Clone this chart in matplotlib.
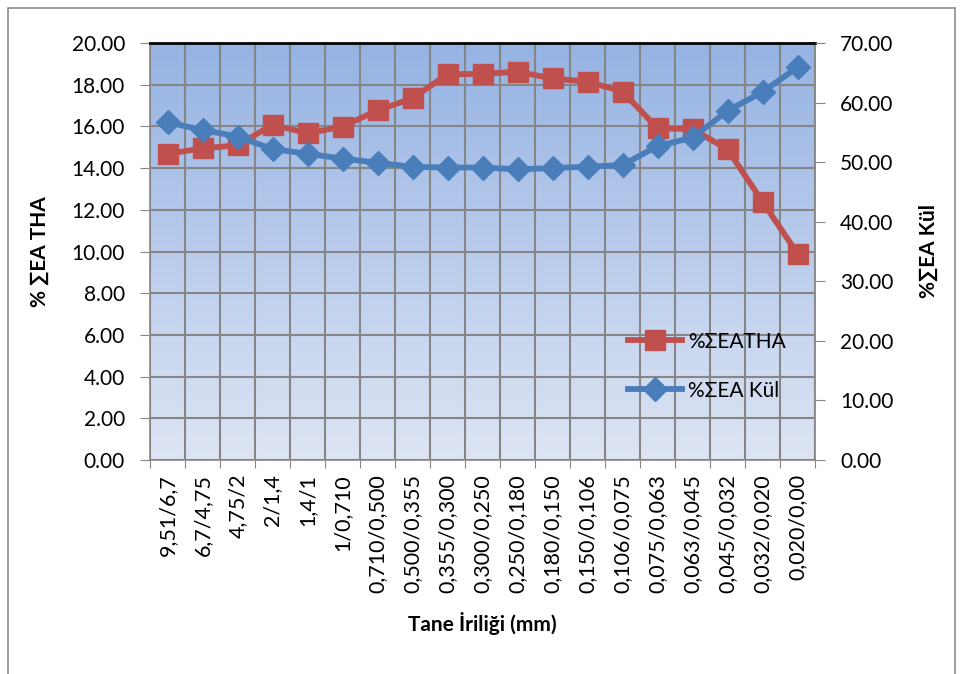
import numpy as np
import matplotlib.pyplot as plt
from matplotlib.lines import Line2D
from matplotlib.patches import Rectangle

plt.rcParams['font.family'] = ['Lato', 'DejaVu Sans']

# grain size classes (mm)
sizes = ['9,51/6,7', '6,7/4,75', '4,75/2', '2/1,4', '1,4/1', '1/0,710',
         '0,710/0,500', '0,500/0,355', '0,355/0,300', '0,300/0,250',
         '0,250/0,180', '0,180/0,150', '0,150/0,106', '0,106/0,075',
         '0,075/0,063', '0,063/0,045', '0,045/0,032', '0,032/0,020',
         '0,020/0,00']

# cumulative THA (left axis)
tha = [14.68, 14.95, 15.09, 16.08, 15.67, 15.99, 16.77, 17.35, 18.50, 18.52,
       18.62, 18.30, 18.15, 17.67, 15.91, 15.87, 14.90, 12.39, 9.90]

# cumulative ash (right axis)
kul = [56.7, 55.4, 54.3, 52.2, 51.4, 50.6, 49.9, 49.2, 49.1, 49.1,
       48.8, 49.0, 49.25, 49.5, 52.7, 54.1, 58.6, 61.8, 65.9]

red = '#C0504D'
blue = '#4A7EBB'

fig = plt.figure(figsize=(9.63, 6.74), dpi=100)
fig.patches.append(Rectangle((8 / 963, -0.05), (955 - 8) / 963, 1.05 - 8 / 674,
                             transform=fig.transFigure, fill=False,
                             edgecolor='#8C8C8C', linewidth=1.2))

ax = fig.add_axes([150 / 963, 1 - 460 / 674, 665 / 963, 417 / 674])
x = np.arange(len(sizes))

# gradient background
grad = np.linspace(0, 1, 256).reshape(-1, 1)
top = np.array([149, 179, 227]) / 255
bot = np.array([222, 229, 244]) / 255
img = top * (1 - grad[:, :, None]) + bot * grad[:, :, None]
ax.imshow(img, extent=[-0.5, 18.5, 0, 20], aspect='auto', zorder=0)

ax.plot(x, tha, color=red, lw=4.2, marker='s', ms=14, zorder=3)
ax.set_xlim(-0.5, 18.5)
ax.set_ylim(0, 20)
ax.set_yticks(np.arange(0, 21, 2))
ax.set_yticklabels(['%.2f' % v for v in np.arange(0, 21, 2)], fontsize=15)

ax.set_xticks(np.arange(-0.5, 19, 1))
ax.set_xticklabels([])
ax.set_xticks(x, minor=True)
ax.set_xticklabels(sizes, minor=True, rotation=90, fontsize=15.5)
ax.tick_params(axis='x', which='minor', length=0, pad=10)
ax.tick_params(axis='x', which='major', length=6, color='#868686')
ax.tick_params(axis='y', length=7, pad=11, color='#868686')

ax.grid(True, which='major', color='#868686', lw=1.5, zorder=1)
ax.set_axisbelow(True)
for s in ['left', 'bottom', 'right']:
    ax.spines[s].set_color('#868686')
    ax.spines[s].set_linewidth(1.2)
ax.spines['top'].set_color('black')
ax.spines['top'].set_linewidth(2)

ax.set_ylabel('% ∑EA THA', fontsize=15, fontweight='bold', labelpad=16)
ax.set_xlabel('Tane İriliği (mm)', fontsize=15, fontweight='bold', labelpad=14)

ax2 = ax.twinx()
ax2.plot(x, kul, color=blue, lw=4.2, marker='D', ms=12, zorder=3)
ax2.set_ylim(0, 70)
ax2.set_yticks(np.arange(0, 71, 10))
ax2.set_yticklabels(['%.2f' % v for v in np.arange(0, 71, 10)], fontsize=15)
ax2.tick_params(axis='y', length=7, pad=11, color='#868686')
for s in ['left', 'bottom', 'right', 'top']:
    ax2.spines[s].set_visible(False)
ax2.set_ylabel('%∑EA Kül', fontsize=15, fontweight='bold', labelpad=18,
               rotation=90)

handles = [Line2D([], [], color=red, lw=4.2, marker='s', ms=14),
           Line2D([], [], color=blue, lw=4.2, marker='D', ms=12)]
ax2.legend(handles, ['%ΣEATHA', '%ΣEA Kül'], loc='center left',
           bbox_to_anchor=(0.69, 0.225), frameon=False, fontsize=15,
           handlelength=2.6, handletextpad=0.3, labelspacing=1.4)

plt.savefig('out.png', dpi=100)
